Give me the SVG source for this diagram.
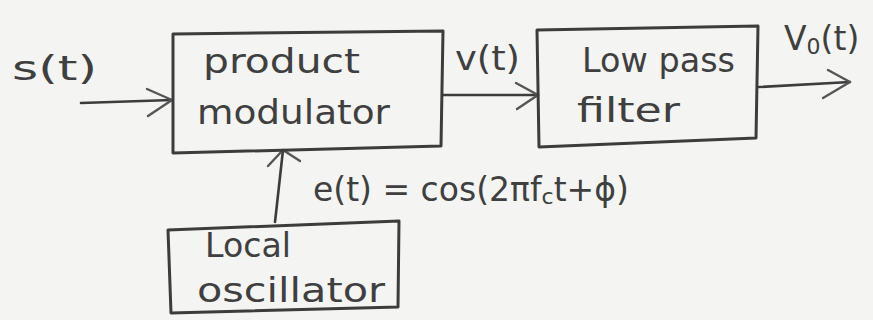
<svg xmlns="http://www.w3.org/2000/svg" width="873" height="320" viewBox="0 0 873 320">
  <defs>
    <style>
      .box { fill: none; stroke: #3c3c3c; stroke-width: 3; stroke-linejoin: round; stroke-linecap: round; }
      .wire { fill: none; stroke: #3c3c3c; stroke-width: 2.6; stroke-linecap: round; }
      .head { fill: none; stroke: #555; stroke-width: 2.4; stroke-linecap: round; stroke-linejoin: round; }
      .lbl { font-family: "DejaVu Sans", "Liberation Sans", sans-serif; fill: #3f3f3f; font-size: 33px; }
    </style>
  </defs>
  <rect width="873" height="320" fill="#f4f4f2"/>

  <!-- signal paths -->
  <g id="connectors">
    <!-- s(t) into modulator -->
    <path class="wire" d="M81 103 L172 100"/>
    <path class="head" d="M147 89 L172 100 L148 116"/>
    <!-- v(t) into low pass filter -->
    <path class="wire" d="M443 95 L538 95"/>
    <path class="head" d="M516 83 L538 95 L517 109"/>
    <!-- output v0(t) -->
    <path class="wire" d="M759 87 L850 82"/>
    <path class="head" d="M828 70 L850 82 L823 98"/>
    <!-- carrier from local oscillator -->
    <path class="wire" d="M275 222 L283 150"/>
    <path class="head" d="M268 166 L283 150 L300 161"/>
  </g>

  <g id="product-modulator">
    <path class="box" d="M173 34 L443 31 L441 146 L173 153 Z"/>
    <text class="lbl" x="203" y="73" textLength="157" lengthAdjust="spacingAndGlyphs">product</text>
    <text class="lbl" x="197" y="124" font-size="36" textLength="193" lengthAdjust="spacingAndGlyphs">modulator</text>
  </g>

  <g id="low-pass-filter">
    <path class="box" d="M537 30 L758 26 L756 138 L539 147 Z"/>
    <text class="lbl" x="582" y="72" textLength="153" lengthAdjust="spacingAndGlyphs">Low pass</text>
    <text class="lbl" x="577" y="122" textLength="103" lengthAdjust="spacingAndGlyphs">filter</text>
  </g>

  <g id="local-oscillator">
    <path class="box" d="M168 230 L399 221 L398 307 L171 313 Z"/>
    <text class="lbl" x="205" y="257" textLength="86" lengthAdjust="spacingAndGlyphs">Local</text>
    <text class="lbl" x="197" y="302" textLength="188" lengthAdjust="spacingAndGlyphs">oscillator</text>
  </g>

  <g id="labels">
    <text class="lbl" x="12" y="80" font-size="46" textLength="85" lengthAdjust="spacingAndGlyphs">s(t)</text>
    <text class="lbl" x="455" y="70" font-size="36" textLength="65" lengthAdjust="spacingAndGlyphs">v(t)</text>
    <text class="lbl" x="784" y="50" font-size="36">V<tspan font-size="22" dy="4">0</tspan><tspan dy="-4">(t)</tspan></text>
    <text class="lbl" x="313" y="201" font-size="34">e(t) = cos(2πf<tspan font-size="22" dy="3">c</tspan><tspan dy="-3">t+ϕ)</tspan></text>
  </g>
</svg>
